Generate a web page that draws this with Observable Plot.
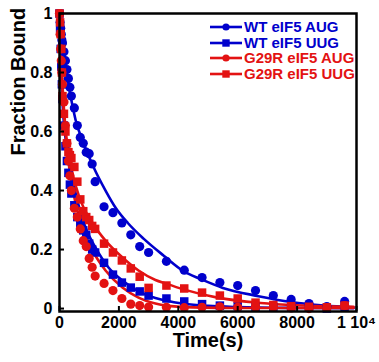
<!DOCTYPE html>
<html>
<head>
<meta charset="utf-8">
<script src="https://cdn.jsdelivr.net/npm/d3@7"></script>
<script src="https://cdn.jsdelivr.net/npm/@observablehq/plot@0.6"></script>
<style>
  html, body { margin: 0; padding: 0; background: #fff; }
  #wrap { position: relative; width: 379px; height: 362px; font-family: "Liberation Sans", Arial, sans-serif; }
  #legend { position: absolute; left: 210px; top: 19px; font-weight: bold; font-size: 15px; line-height: 15.7px; }
  #legend .row { display: flex; align-items: center; height: 15.7px; white-space: nowrap; }
  #legend svg { margin-right: 2px; }
</style>
</head>
<body>
<div id="wrap"></div>
<script>
// ---- data ----
const seriesNames = ["WT eIF5 AUG", "WT eIF5 UUG", "G29R eIF5 AUG", "G29R eIF5 UUG"];
const seriesColors = ["#0000cc", "#0000cc", "#e31212", "#e31212"];
const seriesSymbols = ["circle", "square", "circle", "square"];

const times = [0, 20, 40, 60, 80, 100, 150, 200, 250, 300, 350, 400, 500, 600, 700, 800, 900, 1000, 1100, 1200,
  1500, 1800, 2100, 2400, 2700, 3000, 3600, 4200, 4800, 5400, 6000, 6600, 7200, 7800, 8400, 9000, 9600];

const wtAUG = [1.0, 0.97, 0.95, 0.93, 0.91, 0.90, 0.87, 0.84, 0.81, 0.78, 0.75, 0.72, 0.68, 0.62, 0.58, 0.56, 0.53, 0.525, 0.49, 0.43,
  0.345, 0.325, 0.29, 0.25, 0.21, 0.19, 0.16, 0.13, 0.105, 0.088, 0.078, 0.061, 0.044, 0.031, 0.017, 0.007, 0.024];
const wtUUG = [1.0, 0.95, 0.88, 0.82, 0.76, 0.71, 0.62, 0.55, 0.50, 0.46, 0.42, 0.39, 0.35, 0.31, 0.29, 0.265, 0.25, 0.22, 0.20, 0.19,
  0.155, 0.115, 0.088, 0.071, 0.058, 0.044, 0.034, 0.024, 0.015, 0.010, 0.008, 0.006, 0.005, 0.004, 0.003, 0.0, 0.003];
const g29rAUG = [1.0, 0.93, 0.88, 0.84, 0.80, 0.76, 0.70, 0.62, 0.56, 0.50, 0.45, 0.40, 0.34, 0.31, 0.27, 0.23, 0.21, 0.17, 0.14, 0.11,
  0.085, 0.061, 0.034, 0.015, 0.010, 0.005, 0.004, 0.003, 0.004, 0.006, 0.004, 0.004, 0.004, 0.002, 0.0, 0.003, 0.010];
const g29rUUG = [1.0, 0.97, 0.93, 0.88, 0.80, 0.72, 0.66, 0.60, 0.56, 0.53, 0.52, 0.51, 0.48, 0.43, 0.37, 0.33, 0.31, 0.30, 0.28, 0.27,
  0.22, 0.19, 0.163, 0.136, 0.108, 0.070, 0.078, 0.068, 0.054, 0.044, 0.034, 0.020, 0.012, 0.008, 0.006, 0.004, 0.010];

// fitted curves as (time, value) pairs
const fitWtAUG = [[0,1.0],[200,0.83],[540,0.64],[810,0.56],[1145,0.48],[1550,0.40],[1900,0.34],[2300,0.29],[2830,0.237],[3500,0.18],[4200,0.125],[4750,0.10],[5500,0.07],[6700,0.042],[7800,0.022],[8900,0.01],[9900,0.004]];
const fitWtUUG = [[0,1.0],[100,0.70],[200,0.58],[370,0.48],[600,0.366],[875,0.275],[1210,0.207],[1650,0.139],[2120,0.095],[2660,0.058],[3230,0.036],[3570,0.027],[4200,0.016],[5000,0.009],[6000,0.005],[8000,0.002],[9900,0.001]];
const fitG29rAUG = [[0,1.0],[100,0.74],[200,0.60],[300,0.50],[470,0.39],[775,0.275],[1110,0.197],[1550,0.129],[2120,0.071],[2660,0.037],[3230,0.017],[3570,0.01],[4500,0.004],[6000,0.002],[9900,0.002]];
const fitG29rUUG = [[0,1.0],[100,0.76],[200,0.61],[370,0.49],[710,0.366],[1110,0.29],[1550,0.23],[2120,0.173],[2660,0.129],[3230,0.097],[3570,0.085],[4175,0.065],[5320,0.037],[6770,0.019],[8000,0.011],[9900,0.006]];

const xTicks = [0, 2000, 4000, 6000, 8000, 10000];
const xTickLabels = ["0", "2000", "4000", "6000", "8000", "1 10\u2074"];
const yTicks = [0, 0.2, 0.4, 0.6, 0.8, 1];
const yTickLabels = ["0", "0.2", "0.4", "0.6", "0.8", "1"];
const xTitle = "Time(s)";
const yTitle = "Fraction Bound";

// ---- build tables ----
const valueSets = [wtAUG, wtUUG, g29rAUG, g29rUUG];
const fitSets = [fitWtAUG, fitWtUUG, fitG29rAUG, fitG29rUUG];
const points = [];
valueSets.forEach((vals, s) => vals.forEach((v, i) => points.push({series: s, t: times[i], v})));
const fits = [];
fitSets.forEach((arr, s) => arr.forEach(([t, v]) => fits.push({series: s, t, v})));

const font = "'Liberation Sans', Arial, sans-serif";
const marks = [];
for (let s = 0; s < 4; s++) {
  marks.push(Plot.line(fits.filter(d => d.series === s), {x: "t", y: "v", stroke: seriesColors[s], strokeWidth: 2.6, curve: "monotone-x"}));
}
for (let s = 0; s < 4; s++) {
  marks.push(Plot.dot(points.filter(d => d.series === s), {
    x: "t", y: "v", symbol: seriesSymbols[s], fill: seriesColors[s], stroke: "none",
    r: seriesSymbols[s] === "square" ? 4.8 : 4.6
  }));
}

const chart = Plot.plot({
  width: 379,
  height: 362,
  marginLeft: 59,
  marginRight: 23,
  marginTop: 13,
  marginBottom: 51,
  style: {fontFamily: font, fontWeight: "bold", fontSize: "16px", color: "#000", background: "#fff"},
  x: {domain: [0, 10000], label: null},
  y: {domain: [-0.01, 1], label: null},
  marks: [
    ...marks,
    Plot.frame({stroke: "#000", strokeWidth: 2.5}),
    Plot.axisX(xTicks, {tickSize: -5, tickPadding: 10, strokeWidth: 2, tickFormat: (d) => xTickLabels[xTicks.indexOf(d)], fontSize: 16, fontWeight: "bold", label: null}),
    Plot.axisY(yTicks, {tickSize: -5, tickPadding: 12, strokeWidth: 2, tickFormat: (d) => yTickLabels[yTicks.indexOf(d)], fontSize: 16, fontWeight: "bold", label: null}),
    Plot.text([xTitle], {text: d => d, frameAnchor: "bottom", dy: 35, fontSize: 20, fontWeight: "bold", fill: "#000"}),
    Plot.text([yTitle], {text: d => d, frameAnchor: "left", rotate: -90, dx: -41, dy: -7, fontSize: 20, fontWeight: "bold", fill: "#000"})
  ]
});

const wrap = document.getElementById("wrap");
wrap.appendChild(chart);

// legend
const legend = document.createElement("div");
legend.id = "legend";
seriesNames.forEach((name, s) => {
  const row = document.createElement("div");
  row.className = "row";
  const sym = seriesSymbols[s] === "circle"
    ? `<circle cx="16" cy="6" r="3.6" fill="${seriesColors[s]}"/>`
    : `<rect x="12.3" y="2.3" width="7.4" height="7.4" fill="${seriesColors[s]}"/>`;
  row.innerHTML = `<svg width="32" height="12" viewBox="0 0 32 12"><line x1="0" x2="32" y1="6" y2="6" stroke="${seriesColors[s]}" stroke-width="2.6"/>${sym}</svg><span style="color:${seriesColors[s]}">${name}</span>`;
  legend.appendChild(row);
});
wrap.appendChild(legend);
</script>
</body>
</html>
